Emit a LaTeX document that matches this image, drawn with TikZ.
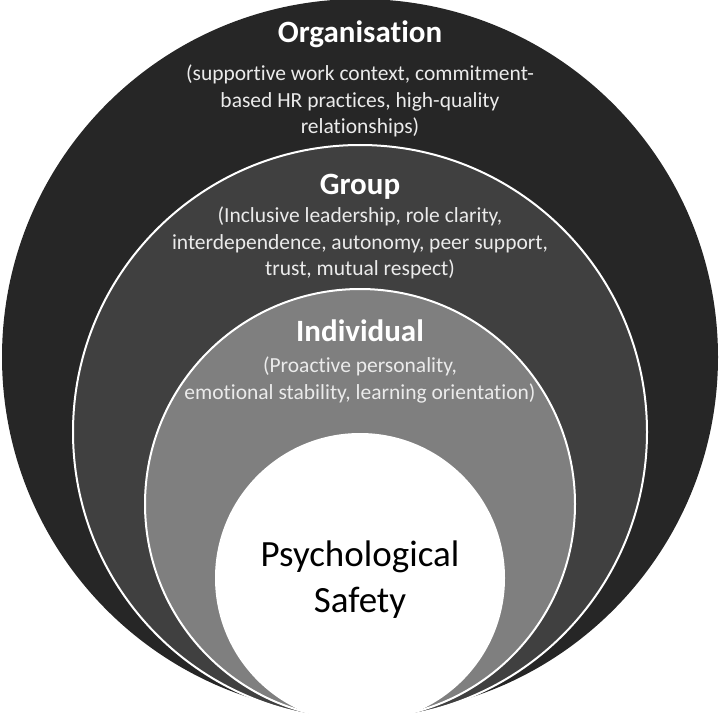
\documentclass[tikz,border=0pt]{standalone}
\usepackage{fontspec}
\setmainfont[Ligatures=NoCommon]{Carlito}
\definecolor{orgc}{RGB}{38,38,38}
\definecolor{grpc}{RGB}{64,64,64}
\definecolor{indc}{RGB}{127,127,127}
\definecolor{subc}{RGB}{235,235,235}
\tikzset{
  ring/.style={fill=#1, draw=white, line width=2pt},
  title/.style={text=white, font=\fontsize{31}{37}\selectfont\bfseries, inner sep=0pt, anchor=center},
  sub/.style={text=subc, font=\fontsize{21.5}{26.5}\selectfont, align=center, inner sep=0pt, anchor=north},
  core/.style={text=black, font=\fontsize{37}{46}\selectfont, align=center, inner sep=0pt, anchor=center}
}
\begin{document}
\begin{tikzpicture}[x=1pt,y=-1pt]
\useasboundingbox (0,0) rectangle (720,714);
\fill[orgc] (360,357) circle[radius=358pt];
\path[ring=grpc] (360,432) circle[radius=287pt];
\path[ring=indc] (360,504) circle[radius=215pt];
\fill[white] (360,578) circle[radius=145pt];
\node[title] (org) at (360,34) {Organisation};
\node[sub] (orgsub) at (360,65) {(supportive work context, commitment-\\based HR practices, high-quality\\relationships)};
\node[title] (grp) at (360,187) {Group};
\node[sub] (grpsub) at (360,207) {(Inclusive leadership, role clarity,\\interdependence, autonomy, peer support,\\trust, mutual respect)};
\node[title] (ind) at (360,331) {Individual};
\node[sub] (indsub) at (360,357) {(Proactive personality,\\emotional stability, learning orientation)};
\node[core] (ps) at (360,580) {Psychological\\Safety};
\end{tikzpicture}
\end{document}
